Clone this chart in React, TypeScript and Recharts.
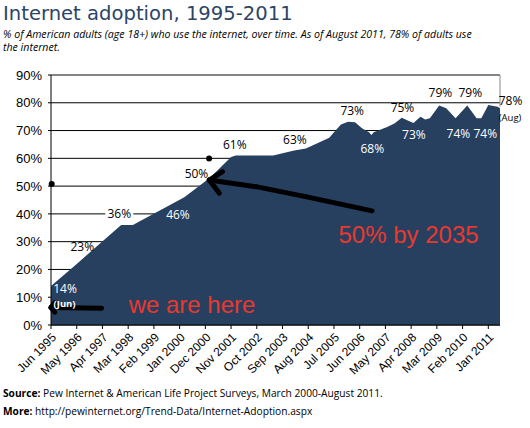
import React from 'react';
import {
  AreaChart,
  Area,
  XAxis,
  YAxis,
  CartesianGrid,
  ReferenceLine,
  ReferenceDot,
} from 'recharts';

// months since Jun 1995
const months = [0, 11, 30, 35, 57, 68, 77, 79, 95, 104, 109, 119, 121, 124, 127, 130, 133, 136, 137, 138, 144, 147, 150, 153, 155, 158, 160, 162, 166, 169, 170, 173, 178, 182, 184, 187, 191, 192];
const adoption = [14, 22, 36, 36, 46, 53, 60.5, 61, 61, 62.8, 63.5, 67.4, 69.4, 72.2, 73.2, 73, 70.8, 69.4, 68.4, 69.4, 71.4, 72.6, 74.6, 73.4, 72.7, 75, 74, 74.4, 79, 78, 77.1, 74.4, 79, 74.4, 74.4, 79.2, 78.6, 78];

const tickLabels = ['Jun 1995', 'May 1996', 'Apr 1997', 'Mar 1998', 'Feb 1999', 'Jan 2000', 'Dec 2000', 'Nov 2001', 'Oct 2002', 'Sep 2003', 'Aug 2004', 'Jul 2005', 'Jun 2006', 'May 2007', 'Apr 2008', 'Mar 2009', 'Feb 2010', 'Jan 2011'];
const xTicks = tickLabels.map((_, i) => i * 11);
const yTicks = [0, 10, 20, 30, 40, 50, 60, 70, 80, 90];

// value labels: text, anchor month, anchor percent, white when on the area
const valueLabels = [
  { text: '14%', m: 6, v: 13.2, white: true },
  { text: '(Jun)', m: 5.8, v: 7.6, white: true, small: true },
  { text: '23%', m: 13.4, v: 28.1 },
  { text: '36%', m: 29.2, v: 40.2, box: true },
  { text: '46%', m: 54.3, v: 39.6, white: true },
  { text: '50%', m: 62.2, v: 54.6 },
  { text: '61%', m: 78.6, v: 64.8 },
  { text: '63%', m: 104.3, v: 66.6 },
  { text: '73%', m: 128.8, v: 77 },
  { text: '68%', m: 137.4, v: 63.4, white: true },
  { text: '75%', m: 150.3, v: 78.1 },
  { text: '73%', m: 155.2, v: 68.4, white: true },
  { text: '79%', m: 166.5, v: 83.6 },
  { text: '79%', m: 179.3, v: 83.6 },
  { text: '74%', m: 174.2, v: 68.8, white: true },
  { text: '74%', m: 185.7, v: 68.8, white: true },
  { text: '78%', m: 196.5, v: 80.6 },
  { text: '(Aug)', m: 196.3, v: 74.6, small: true },
];

// hand drawn arrows, in data space
const arrow2035 = [
  [[137.3, 41.1], [108.9, 46.2]],
  [[108.9, 46.2], [87.6, 49.8]],
  [[87.6, 49.8], [67.7, 52.2]],
  [[67.7, 52.2], [73.3, 55.2]],
  [[67.7, 52.2], [72, 47.4]],
];
const arrowHere = [
  [[21.6, 6.0], [0, 6.3]],
  [[0, 6.3], [1.6, 8.0]],
  [[0, 6.3], [1.6, 4.6]],
];
const dots = [[0.3, 50.8], [67.6, 59.9]];

const data = months.map((m, i) => ({ m, v: adoption[i] }));

const labelFont = '"Open Sans", sans-serif';
const axisFont = '"Liberation Sans", Arial, sans-serif';

export default function App() {
  return (
    <div style={{ position: 'fixed', left: 0, top: 0, width: 530, height: 428, background: '#fff', overflow: 'hidden' }}>
      <AreaChart width={530} height={428} data={data} margin={{ top: 75, right: 30, bottom: 43, left: 0 }}>
        <CartesianGrid vertical={false} stroke="#000" strokeWidth={1} />
        <XAxis
          dataKey="m"
          type="number"
          domain={[0, 192]}
          ticks={xTicks}
          tickFormatter={(v) => tickLabels[Math.round(v / 11)]}
          interval={0}
          angle={-45}
          textAnchor="end"
          height={60}
          tickSize={4}
          tickMargin={3}
          stroke="#000"
          tick={{ fill: '#000', fontSize: 12, fontFamily: axisFont }}
        />
        <YAxis
          type="number"
          domain={[0, 90]}
          ticks={yTicks}
          width={51}
          tickSize={3}
          tickMargin={6}
          tickFormatter={(v) => `${v}%`}
          stroke="#000"
          tick={{ fill: '#000', fontSize: 13, fontFamily: axisFont }}
        />
        <Area
          type="linear"
          dataKey="v"
          stroke="none"
          fill="#27405f"
          fillOpacity={1}
          isAnimationActive={false}
        />
        <ReferenceLine y={90} stroke="#8a8a8a" strokeWidth={1} />
        <ReferenceLine segment={[{ x: 192, y: 78.6 }, { x: 192, y: 90 }]} stroke="#8a8a8a" strokeWidth={1} />
        {arrow2035.concat(arrowHere).map((s, i) => (
          <ReferenceLine
            key={`arrow-${i}`}
            segment={[{ x: s[0][0], y: s[0][1] }, { x: s[1][0], y: s[1][1] }]}
            stroke="#000"
            strokeWidth={5}
            strokeLinecap="round"
            ifOverflow="visible"
          />
        ))}
        {dots.map((d, i) => (
          <ReferenceDot key={`dot-${i}`} x={d[0]} y={d[1]} r={3} fill="#000" stroke="none" ifOverflow="visible" />
        ))}
        {valueLabels.map((l, i) => (
          <ReferenceDot
            key={`lbl-${i}`}
            x={l.m}
            y={l.v}
            ifOverflow="visible"
            shape={(p: any) => (
              <g>
                {l.box && <rect x={p.cx - 14} y={p.cy - 7} width={28} height={14} fill="#fff" />}
                <text
                  x={p.cx}
                  y={p.cy}
                  dy="0.35em"
                  textAnchor="middle"
                  fill={l.white ? '#fff' : '#000'}
                  fontSize={l.small ? 9.5 : 12}
                  fontWeight={l.small && l.white ? 700 : 400}
                  fontFamily={labelFont}
                >
                  {l.text}
                </text>
              </g>
            )}
          />
        ))}
        <ReferenceDot
          x={60.3}
          y={4.3}
          ifOverflow="visible"
          shape={(p: any) => (
            <text x={p.cx} y={p.cy} textAnchor="middle" fill="#e8392f" fontSize={24} fontFamily={axisFont}>
              we are here
            </text>
          )}
        />
        <ReferenceDot
          x={152.9}
          y={29.6}
          ifOverflow="visible"
          shape={(p: any) => (
            <text x={p.cx} y={p.cy} textAnchor="middle" fill="#e8392f" fontSize={24} fontFamily={axisFont}>
              50% by 2035
            </text>
          )}
        />
      </AreaChart>
      <div style={{ position: 'absolute', left: 3, top: 2, fontFamily: '"DejaVu Sans", sans-serif', fontSize: 19.6, color: '#2c4566', whiteSpace: 'nowrap' }}>
        Internet adoption, 1995-2011
      </div>
      <div style={{ position: 'absolute', left: 3, top: 28, fontFamily: labelFont, fontStyle: 'italic', fontSize: 10.6, lineHeight: '13px', color: '#000', whiteSpace: 'nowrap' }}>
        <div>% of American adults (age 18+) who use the internet, over time. As of August 2011, 78% of adults use</div>
        <div>the internet.</div>
      </div>
      <div style={{ position: 'absolute', left: 3, top: 384, fontFamily: labelFont, fontSize: 10.2, lineHeight: '18px', color: '#000', whiteSpace: 'nowrap' }}>
        <div><b>Source:</b> Pew Internet &amp; American Life Project Surveys, March 2000-August 2011.</div>
        <div><b>More:</b> http://pewinternet.org/Trend-Data/Internet-Adoption.aspx</div>
      </div>
    </div>
  );
}
